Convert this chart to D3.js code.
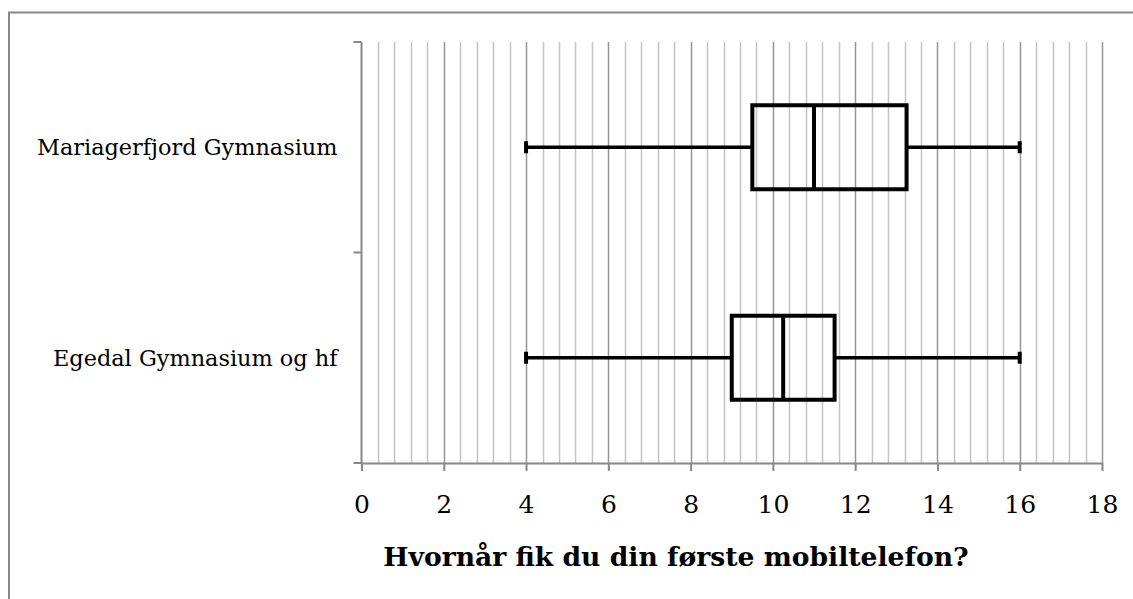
<!DOCTYPE html>
<html><head><meta charset="utf-8">
<script src="https://cdn.jsdelivr.net/npm/d3@7"></script>
<style>body{margin:0;background:#fff}svg{display:block}</style>
</head><body>
<script>
const categories = ["Mariagerfjord Gymnasium", "Egedal Gymnasium og hf"];
const mins = [4, 4];
const q1s = [9.5, 9];
const medians = [11, 10.25];
const q3s = [13.25, 11.5];
const maxs = [16, 16];
const xTicks = [0, 2, 4, 6, 8, 10, 12, 14, 16, 18];
const xTitle = "Hvornår fik du din første mobiltelefon?";

(function(){
const W = 1133, H = 599;
const svg = d3.select("body").append("svg").attr("width", W).attr("height", H);
const pLeft = 361.5, pRight = 1102, pTop = 42, pBottom = 463;
const x = d3.scaleLinear().domain([0, 18]).range([pLeft, pRight]);
const y = d3.scaleBand().domain(categories).range([pTop, pBottom]).paddingInner(0).paddingOuter(0);
const font = "DejaVu Serif";

// frame
svg.append("path").attr("d", `M9,${H} V12.5 H${W}`).attr("fill","none").attr("stroke","#888").attr("stroke-width",2);

// minor grid
const minor = d3.range(0, 18.001, 0.4).filter(v => Math.abs(v/2 - Math.round(v/2)) > 1e-6);
svg.append("g").selectAll("line").data(minor).join("line")
  .attr("x1", d => Math.round(x(d)) + 0.5).attr("x2", d => Math.round(x(d)) + 0.5)
  .attr("y1", pTop).attr("y2", pBottom).attr("stroke", "#c4c4c4").attr("stroke-width", 1.5);
// major grid
svg.append("g").selectAll("line").data(xTicks.slice(1)).join("line")
  .attr("x1", d => Math.round(x(d)) + 0.5).attr("x2", d => Math.round(x(d)) + 0.5)
  .attr("y1", pTop).attr("y2", pBottom).attr("stroke", "#959595").attr("stroke-width", 1.5);

// x axis
const xa = svg.append("g").attr("transform", `translate(0,${pBottom})`)
  .call(d3.axisBottom(x).tickValues(xTicks).tickSize(8).tickPadding(24).tickSizeOuter(0));
xa.select(".domain").attr("stroke", "#888").attr("stroke-width", 2);
xa.selectAll(".tick line").attr("stroke", "#888").attr("stroke-width", 2);
xa.selectAll("text").attr("font-family", font).attr("font-size", 25).attr("fill", "#000");

// y axis
const ya = svg.append("g").attr("transform", `translate(${pLeft},0)`);
ya.append("line").attr("x1",0).attr("x2",0).attr("y1",pTop).attr("y2",pBottom).attr("stroke","#888").attr("stroke-width",2);
const bounds = [pTop, ...categories.map(c => y(c) + y.bandwidth())];
ya.selectAll("line.t").data(bounds).join("line").attr("class","t")
  .attr("x1", -8).attr("x2", 0).attr("y1", d => d).attr("y2", d => d)
  .attr("stroke","#888").attr("stroke-width",2);
ya.selectAll("text").data(categories).join("text")
  .attr("x", -24).attr("y", d => y(d) + y.bandwidth()/2).attr("dy", "0.35em")
  .attr("text-anchor","end").attr("font-family", font).attr("font-size", 22.4).text(d => d);

// boxes
const boxH = 84, cap = 12;
const g = svg.append("g");
categories.forEach((c, i) => {
  const cy = y(c) + y.bandwidth()/2;
  g.append("line").attr("x1", x(mins[i])).attr("x2", x(q1s[i])).attr("y1", cy).attr("y2", cy).attr("stroke","#000").attr("stroke-width",3.5);
  g.append("line").attr("x1", x(q3s[i])).attr("x2", x(maxs[i])).attr("y1", cy).attr("y2", cy).attr("stroke","#000").attr("stroke-width",3.5);
  g.append("line").attr("x1", x(mins[i])).attr("x2", x(mins[i])).attr("y1", cy-cap/2).attr("y2", cy+cap/2).attr("stroke","#000").attr("stroke-width",4);
  g.append("line").attr("x1", x(maxs[i])).attr("x2", x(maxs[i])).attr("y1", cy-cap/2).attr("y2", cy+cap/2).attr("stroke","#000").attr("stroke-width",4);
  g.append("rect").attr("x", x(q1s[i])).attr("y", cy - boxH/2).attr("width", x(q3s[i]) - x(q1s[i])).attr("height", boxH)
    .attr("fill","none").attr("stroke","#000").attr("stroke-width",4);
  g.append("line").attr("x1", x(medians[i])).attr("x2", x(medians[i])).attr("y1", cy-boxH/2).attr("y2", cy+boxH/2).attr("stroke","#000").attr("stroke-width",4);
});

svg.append("text").attr("x", 676).attr("y", 566).attr("text-anchor","middle")
  .attr("font-family", font).attr("font-weight","bold").attr("font-size", 26.6).text(xTitle);
})();
</script>
</body></html>
